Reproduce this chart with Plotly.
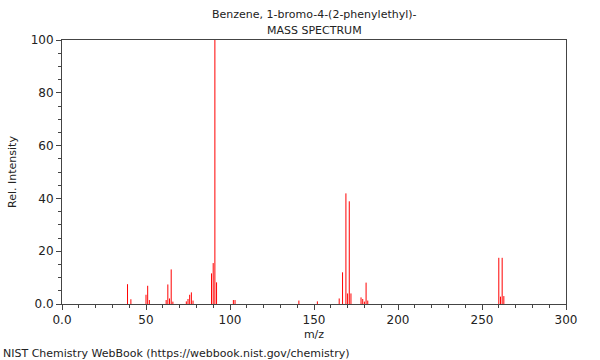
import plotly.graph_objects as go

mz = [39, 41, 50, 51, 52, 62, 63, 64, 65, 66, 74, 75, 76, 77, 78,
      89, 90, 91, 92, 102, 103, 141, 152, 165, 167, 169, 170, 171, 172,
      178, 179, 180, 181, 182, 260, 261, 262, 263]
intensity = [7.5, 1.8, 3.5, 6.9, 1.5, 1.5, 7.4, 2.1, 13.1, 0.9, 1.0, 1.9, 3.5, 4.4, 1.3,
             11.6, 15.5, 100, 8.2, 1.5, 1.5, 1.3, 1.0, 2.1, 12.0, 41.9, 4.0, 38.9, 4.0,
             2.5, 1.9, 0.9, 8.1, 1.3, 17.5, 2.8, 17.5, 3.0]

x_ticks = [0, 50, 100, 150, 200, 250, 300]
x_ticklabels = ["0.0", "50", "100", "150", "200", "250", "300"]
y_ticks = [0, 20, 40, 60, 80, 100]
y_ticklabels = ["0.0", "20", "40", "60", "80", "100"]

xs, ys = [], []
for m, v in zip(mz, intensity):
    xs += [m, m, None]
    ys += [0, v, None]

fig = go.Figure()
fig.add_trace(go.Scatter(x=xs, y=ys, mode="lines",
                         line=dict(color="red", width=1),
                         hoverinfo="skip", showlegend=False))

font = "DejaVu Sans, sans-serif"
txt = "#222"
fig.update_layout(
    width=600, height=360,
    margin=dict(l=62, r=34, t=40, b=56),
    plot_bgcolor="white", paper_bgcolor="white",
    font=dict(family=font, size=11, color=txt),
    xaxis=dict(range=[0, 300], tickvals=x_ticks, ticktext=x_ticklabels,
               showgrid=False, zeroline=False, showline=True, linecolor="#444",
               linewidth=1, mirror=True, ticks="outside", ticklen=5, tickcolor="#444",
               minor=dict(dtick=10, ticks="outside", ticklen=3, tickcolor="#444"),
               title=dict(text="m/z", standoff=3, font=dict(size=11)),
               tickfont=dict(size=12)),
    yaxis=dict(range=[0, 100], tickvals=y_ticks, ticktext=y_ticklabels,
               showgrid=False, zeroline=False, showline=True, linecolor="#444",
               linewidth=1, mirror=True, ticks="outside", ticklen=5, tickcolor="#444",
               minor=dict(dtick=5, ticks="outside", ticklen=3, tickcolor="#444"),
               title=dict(text="Rel. Intensity", standoff=11, font=dict(size=11)),
               tickfont=dict(size=12)),
    annotations=[
        dict(text="Benzene, 1-bromo-4-(2-phenylethyl)-", xref="paper", yref="paper",
             x=0.5, y=1 + 26 / 264, xanchor="center", yanchor="middle",
             showarrow=False, font=dict(family=font, size=11, color=txt)),
        dict(text="MASS SPECTRUM", xref="paper", yref="paper",
             x=0.5, y=1 + 10 / 264, xanchor="center", yanchor="middle",
             showarrow=False, font=dict(family=font, size=11, color=txt)),
        dict(text="NIST Chemistry WebBook (https://webbook.nist.gov/chemistry)",
             xref="paper", yref="paper", x=-61 / 504, y=-49 / 264,
             xanchor="left", yanchor="middle", showarrow=False,
             font=dict(family=font, size=11, color=txt)),
    ],
)

fig.write_html("out.html", config={"displayModeBar": False},
               post_script="document.body.style.margin='0px';")
